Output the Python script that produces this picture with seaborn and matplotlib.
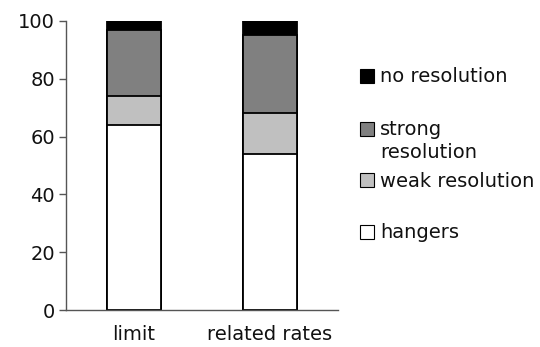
import matplotlib
matplotlib.use("Agg")
import matplotlib.pyplot as plt
import seaborn as sns
import numpy as np
import pandas as pd
from matplotlib.patches import Rectangle

categories = ["limit", "related rates"]
series_names = ["hangers", "weak resolution", "strong resolution", "no resolution"]
hangers = [64, 54]
weak_resolution = [10, 14]
strong_resolution = [23, 27]
no_resolution = [3, 5]
y_ticks = [0, 20, 40, 60, 80, 100]

colors = {"hangers": "#ffffff", "weak resolution": "#c0c0c0",
          "strong resolution": "#808080", "no resolution": "#000000"}

sns.set_style("white")
plt.rcParams['font.family'] = ['DejaVu Sans']

fig = plt.figure(figsize=(5.4, 3.47), dpi=100)
ax = fig.add_axes([66/540, 1-310/347, (338-66)/540, (310-21)/347])

layers = [hangers, weak_resolution, strong_resolution, no_resolution]
cum = np.cumsum(np.array(layers), axis=0)
# draw from top layer down so that lower layers overlay
for i in range(len(series_names) - 1, -1, -1):
    df = pd.DataFrame({"cat": categories, "val": cum[i]})
    sns.barplot(data=df, x="cat", y="val", ax=ax, width=0.4,
                color=colors[series_names[i]], edgecolor="black",
                linewidth=1.3, saturation=1, errorbar=None)

ax.set_xlim(-0.5, 1.5)
ax.set_ylim(0, 100)
ax.set_yticks(y_ticks)
ax.set_xlabel("")
ax.set_ylabel("")
for s in ["top", "right"]:
    ax.spines[s].set_visible(False)
for s in ["left", "bottom"]:
    ax.spines[s].set_color("#555555")
    ax.spines[s].set_linewidth(1.0)
ax.tick_params(axis="y", length=5, width=1, color="#555555", pad=3,
               labelsize=14, labelcolor="#111111", left=True, direction="out")
ax.tick_params(axis="x", length=0, pad=11, labelsize=14, labelcolor="#111111")

H = 347.0
W = 540.0
# legend swatches (figure pixel coordinates)
for key, ytop in [("no resolution", 69), ("strong resolution", 122),
                  ("weak resolution", 173), ("hangers", 225)]:
    fig.patches.append(Rectangle((360/W, 1-(ytop+14)/H), 14/W, 14/H,
                                 transform=fig.transFigure, facecolor=colors[key],
                                 edgecolor="black", linewidth=0.8))
for label, yc in [("no resolution", 77), ("strong", 129), ("resolution", 152),
                  ("weak resolution", 181), ("hangers", 233)]:
    fig.text(380/W, 1-yc/H, label, fontsize=14, va="center", ha="left",
             color="#111111")

fig.savefig("out.png", dpi=100)
